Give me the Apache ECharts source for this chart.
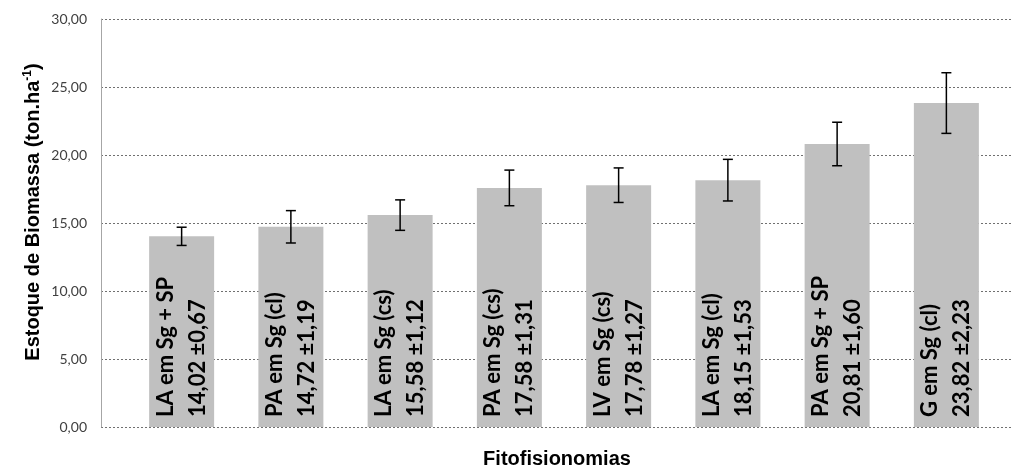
<!DOCTYPE html>
<html>
<head>
<meta charset="utf-8">
<script src="https://cdn.jsdelivr.net/npm/echarts@6/dist/echarts.min.js"></script>
<style>html,body{margin:0;padding:0;background:#fff}#c{width:1013px;height:468px}</style>
</head>
<body>
<div id="c"></div>
<script>
const categories = ['LA em Sg + SP','PA em Sg (cl)','LA em Sg (cs)','PA em Sg (cs)','LV em Sg (cs)','LA em Sg (cl)','PA em Sg + SP','G em Sg (cl)'];
const means = [14.02,14.72,15.58,17.58,17.78,18.15,20.81,23.82];
const errors = [0.67,1.19,1.12,1.31,1.27,1.53,1.60,2.23];
const yTicks = [0,5,10,15,20,25,30];
const yTitle = 'Estoque de Biomassa (ton.ha';
const yTitleSup = '-1';
const xTitle = 'Fitofisionomias';

const fmt = v => v.toFixed(2).replace('.', ',');
const chart = echarts.init(document.getElementById('c'));
const Y = {min: 0, max: 30, interval: 5};
const FF = 'Liberation Sans, Arial, sans-serif';
chart.setOption({
  animation: false,
  grid: [
    {left: 101, right: 1, top: 19, bottom: 41, outerBoundsMode: 'none', containLabel: false},
    {left: 127, right: 12, top: 19, bottom: 41, outerBoundsMode: 'none', containLabel: false}
  ],
  graphic: [
    {type: 'text', x: 33, y: 212, rotation: Math.PI / 2,
     style: {text: '{t|' + yTitle + '}{s|' + yTitleSup + '}{t|)}', align: 'center', verticalAlign: 'middle',
       rich: {
         t: {fontFamily: FF, fontWeight: 'bold', fontSize: 20, fill: '#000'},
         s: {fontFamily: FF, fontWeight: 'bold', fontSize: 12, fill: '#000', verticalAlign: 'top', padding: [0, 0, 10, 0]}
       }}},
    {type: 'text', x: 557, y: 459,
     style: {text: xTitle, align: 'center', verticalAlign: 'middle', fontFamily: FF, fontWeight: 'bold', fontSize: 20, fill: '#000'}}
  ],
  xAxis: [
    {gridIndex: 0, type: 'value', min: 0, max: 1, axisLine: {show: false}, axisTick: {show: false}, axisLabel: {show: false}, splitLine: {show: false}},
    {gridIndex: 1, type: 'category', data: categories, axisLine: {show: false}, axisTick: {show: false}, axisLabel: {show: false}}
  ],
  yAxis: [
    {gridIndex: 0, type: 'value', min: Y.min, max: Y.max, interval: Y.interval,
     axisLine: {show: true, lineStyle: {color: '#a6a6a6', width: 1}},
     axisTick: {show: false},
     axisLabel: {formatter: v => yTicks.includes(v) ? fmt(v) : '', fontFamily: 'Lato, sans-serif', fontSize: 14, color: '#404040', margin: 14},
     splitLine: {show: true, lineStyle: {color: '#707070', type: [2, 2], width: 1}}},
    {gridIndex: 1, type: 'value', min: Y.min, max: Y.max, interval: Y.interval, show: false, splitLine: {show: false}}
  ],
  series: [
    {type: 'bar', xAxisIndex: 1, yAxisIndex: 1, data: means, barWidth: 65,
     itemStyle: {color: '#c0c0c0'},
     label: {show: true, position: 'insideBottom', distance: 10, rotate: 90, align: 'left', verticalAlign: 'middle',
       formatter: p => categories[p.dataIndex] + '\n' + fmt(means[p.dataIndex]) + ' ±' + fmt(errors[p.dataIndex]),
       fontFamily: 'Lato, sans-serif', fontWeight: 'bold', fontSize: 22, lineHeight: 32, color: '#000'}},
    {type: 'custom', xAxisIndex: 1, yAxisIndex: 1, z: 5,
     data: means.map((m, i) => [i, m - errors[i], m + errors[i]]),
     renderItem: (params, api) => {
       const lo = api.coord([api.value(0), api.value(1)]);
       const hi = api.coord([api.value(0), api.value(2)]);
       const w = 5;
       const st = {stroke: '#000', lineWidth: 1.5};
       return {type: 'group', children: [
         {type: 'line', shape: {x1: hi[0], y1: hi[1], x2: lo[0], y2: lo[1]}, style: st},
         {type: 'line', shape: {x1: hi[0] - w, y1: hi[1], x2: hi[0] + w, y2: hi[1]}, style: st},
         {type: 'line', shape: {x1: lo[0] - w, y1: lo[1], x2: lo[0] + w, y2: lo[1]}, style: st}
       ]};
     }}
  ]
});
</script>
</body>
</html>
